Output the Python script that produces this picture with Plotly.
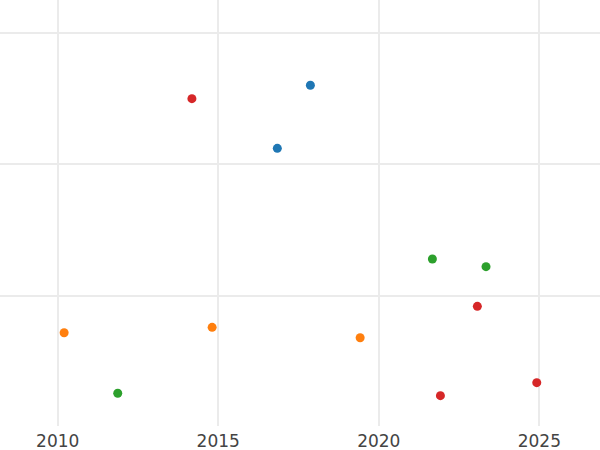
import plotly.graph_objects as go

# Four groups of points, year on x, value on y (y ticks are hidden in the reference)
blue_years = [2017.87, 2016.84]
blue_values = [26.02, 21.22]

orange_years = [2010.20, 2014.81, 2019.42]
orange_values = [7.18, 7.59, 6.80]

green_years = [2021.67, 2023.34, 2011.87]
green_values = [12.79, 12.21, 2.57]

red_years = [2014.18, 2023.07, 2021.92, 2024.92]
red_values = [25.00, 9.19, 2.39, 3.38]

x_ticks = [2010, 2015, 2020, 2025]
y_grid = [10, 20, 30]


def build_scatter() -> go.Figure:
    fig = go.Figure()

    groups = [
        ("blue", blue_years, blue_values, "#1f77b4"),
        ("orange", orange_years, orange_values, "#ff7f0e"),
        ("green", green_years, green_values, "#2ca02c"),
        ("red", red_years, red_values, "#d62728"),
    ]
    for name, xs, ys, color in groups:
        fig.add_trace(go.Scatter(
            x=xs, y=ys, mode="markers", name=name,
            marker=dict(color=color, size=9, line=dict(width=0)),
            showlegend=False,
        ))

    fig.update_layout(
        width=600, height=450,
        margin=dict(l=0, r=0, t=0, b=24),
        plot_bgcolor="white",
        paper_bgcolor="white",
        font=dict(family="DejaVu Sans", size=17, color="#444444"),
    )
    fig.update_xaxes(
        range=[2008.203, 2026.89],
        tickvals=x_ticks,
        ticklabelstandoff=3,
        showgrid=True, gridcolor="#ebebeb", gridwidth=1.5,
        zeroline=False, showline=False, ticks="",
    )
    fig.update_yaxes(
        range=[0.08, 32.51],
        tickvals=y_grid,
        showticklabels=False,
        showgrid=True, gridcolor="#ebebeb", gridwidth=1.5,
        zeroline=False, showline=False, ticks="",
    )
    return fig


fig = build_scatter()
# drop the browser's default body margin so the figure sits flush with the window
fig.write_html(
    "out.html",
    config={"displayModeBar": False},
    post_script="document.body.style.margin = '0';",
)
